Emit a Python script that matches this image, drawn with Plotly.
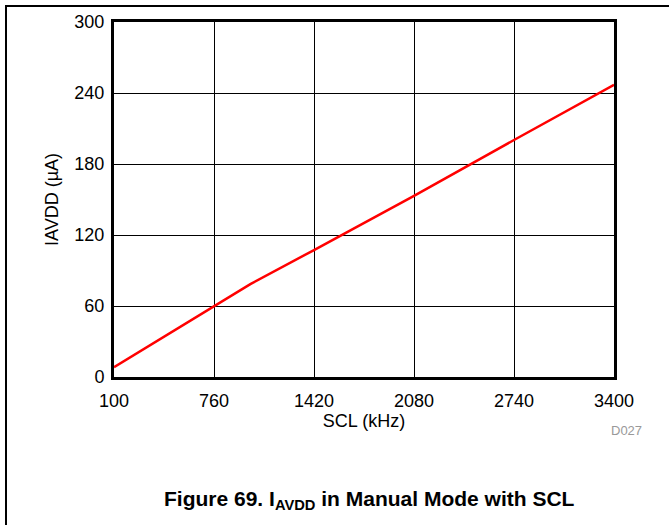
import plotly.graph_objects as go

scl_khz = [100, 760, 1000, 1420, 2080, 2740, 3400]
iavdd_ua = [8.2, 60, 78.5, 107.3, 153, 200.3, 247]

x_ticks = [100, 760, 1420, 2080, 2740, 3400]
y_ticks = [0, 60, 120, 180, 240, 300]

FONT = "Liberation Sans, Arial, sans-serif"

fig = go.Figure()
fig.add_trace(go.Scatter(x=scl_khz, y=iavdd_ua, mode="lines",
                         line=dict(color="#ff0000", width=2.5), showlegend=False,
                         hoverinfo="skip"))

fig.update_layout(
    width=669, height=525,
    margin=dict(l=114, r=55, t=22, b=148),
    paper_bgcolor="white", plot_bgcolor="white",
    font=dict(family=FONT, size=18, color="black"),
    xaxis=dict(range=[100, 3400], tickvals=x_ticks, ticktext=[str(v) for v in x_ticks],
               showgrid=True, gridcolor="black", gridwidth=1,
               showline=True, linecolor="black", linewidth=3, mirror=True,
               ticks="", zeroline=False, ticklabelstandoff=5,
               title=dict(text="SCL (kHz)", font=dict(size=18), standoff=3),
               tickfont=dict(size=18)),
    yaxis=dict(range=[0, 300], tickvals=y_ticks, ticktext=[str(v) for v in y_ticks],
               showgrid=True, gridcolor="black", gridwidth=1,
               showline=True, linecolor="black", linewidth=3, mirror=True,
               ticks="", zeroline=False, ticklabelstandoff=3,
               title=dict(text="IAVDD (µA)", font=dict(size=18), standoff=12),
               tickfont=dict(size=18)),
    shapes=[dict(type="path", xref="paper", yref="paper",
                 path="M %f %f L %f %f L %f %f" % ((6 - 114) / 500, (377 - 530) / 355,
                                                  (6 - 114) / 500, (377 - 6) / 355,
                                                  (680 - 114) / 500, (377 - 6) / 355),
                 line=dict(color="black", width=2))],
    annotations=[
        dict(text="D027", xref="paper", yref="paper", x=(626 - 114) / 500, y=(377 - 430) / 355,
             showarrow=False, font=dict(size=13, color="#999999"), xanchor="center", yanchor="middle"),
        dict(text="<b>Figure 69. I<sub>AVDD</sub> in Manual Mode with SCL</b>", xref="paper", yref="paper",
             x=(369 - 114) / 500, y=(377 - 500) / 355, showarrow=False,
             font=dict(size=21), xanchor="center", yanchor="middle"),
    ],
)

fig.write_html("out.html", config={"displayModeBar": False},
               post_script="document.body.style.margin='0';document.body.style.overflow='hidden';")
